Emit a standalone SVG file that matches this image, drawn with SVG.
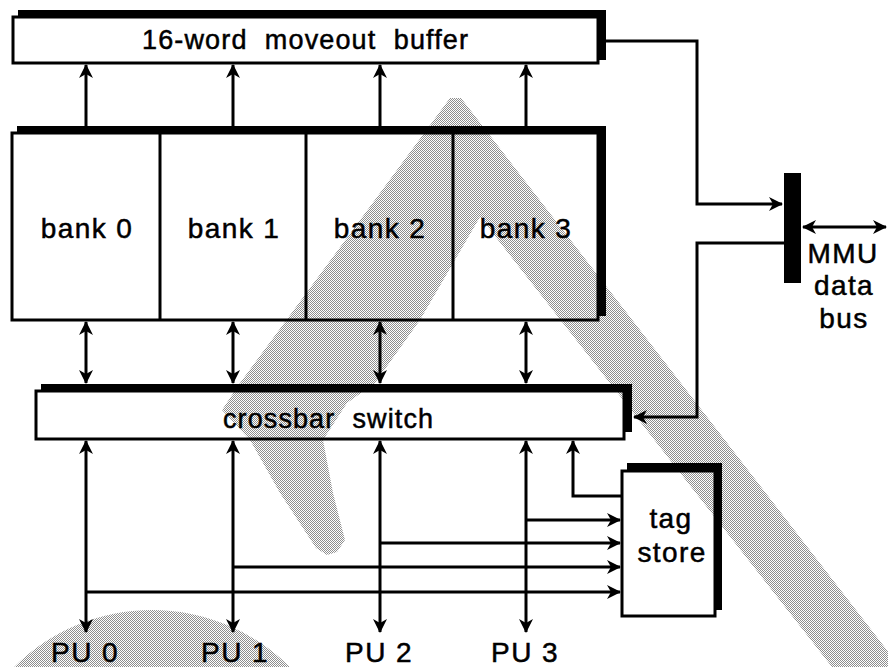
<svg xmlns="http://www.w3.org/2000/svg" width="888" height="667" viewBox="0 0 888 667">
<defs>
<pattern id="dots" width="2" height="2" patternUnits="userSpaceOnUse">
<rect x="0" y="0" width="1" height="1" fill="#8e8e8e"/>
<rect x="1" y="1" width="1" height="1" fill="#8e8e8e"/>
</pattern>
<marker id="ah" viewBox="-14 -8 16 16" refX="0" refY="0" markerWidth="16" markerHeight="16" markerUnits="userSpaceOnUse" orient="auto-start-reverse">
<path d="M1,0 L-13,-7 L-9,0 L-13,7 Z" fill="#000"/>
</marker>
<style>
.box{fill:none;stroke:#000;stroke-width:3}
.shadow{fill:#000}
.div{stroke:#000;stroke-width:3}
.c{fill:none;stroke:#000;stroke-width:3}
.a1{marker-end:url(#ah)}
.a2{marker-start:url(#ah);marker-end:url(#ah)}
.t{font-family:"Liberation Sans",Arial,Helvetica,sans-serif;font-size:28px;fill:#000;stroke:#000;stroke-width:0.5;text-anchor:middle;letter-spacing:1.4px}
.w{font-size:27px;letter-spacing:0;white-space:pre}
.wm{fill:url(#dots)}
</style>
</defs>
<rect width="888" height="667" fill="#fff"/>
<g id="watermark">
<polygon class="wm" points="450,98 461,98 900,667 832,667 480,217 420,320 375,383 347,403 323,440 333,493 345,540 337,552 327,555 316,548 280,493 250,440 222,410 240,383"/>
<circle class="wm" cx="152" cy="805" r="195"/>
</g>
<g id="moveout-buffer">
<polygon class="shadow" points="18,10 606,10 606,60 597,60 597,17 18,17"/>
<rect class="box" x="13" y="17" width="585" height="46"/>
<text class="t w" x="305" y="49" textLength="326" lengthAdjust="spacing">16-word  moveout  buffer</text>
</g>
<g id="banks">
<polygon class="shadow" points="17,126 606,126 606,316 597,316 597,133 17,133"/>
<rect class="box" x="12" y="133" width="586" height="187"/>
<line class="div" x1="160" y1="133" x2="160" y2="320"/>
<line class="div" x1="306" y1="133" x2="306" y2="320"/>
<line class="div" x1="453" y1="133" x2="453" y2="320"/>
</g>
<g id="bank0"><text class="t" x="87" y="238">bank 0</text></g>
<g id="bank1"><text class="t" x="234" y="238">bank 1</text></g>
<g id="bank2"><text class="t" x="380" y="238">bank 2</text></g>
<g id="bank3"><text class="t" x="526" y="238">bank 3</text></g>
<g id="crossbar">
<polygon class="shadow" points="41,384 632,384 632,432 623,432 623,391 41,391"/>
<rect class="box" x="36" y="391" width="588" height="48"/>
<text class="t w" x="328" y="428" textLength="210" lengthAdjust="spacing">crossbar  switch</text>
</g>
<g id="tag-store">
<polygon class="shadow" points="627,463 722,463 722,610 714,610 714,471 627,471"/>
<rect class="box" x="622" y="471" width="93" height="145"/>
<text class="t" x="671" y="528">tag</text>
<text class="t" x="672" y="562">store</text>
</g>
<g id="mmu-bus">
<rect x="784" y="173" width="17" height="110" fill="#000"/>
<text class="t" x="843" y="263">MMU</text>
<text class="t" x="844" y="295">data</text>
<text class="t" x="844" y="328">bus</text>
</g>
<g id="pu0"><text class="t" x="85" y="662">PU 0</text></g>
<g id="pu1"><text class="t" x="235" y="662">PU 1</text></g>
<g id="pu2"><text class="t" x="379" y="662">PU 2</text></g>
<g id="pu3"><text class="t" x="525" y="662">PU 3</text></g>
<g id="connectors">
<path class="c a1" d="M86,126 V65"/>
<path class="c a1" d="M233,126 V65"/>
<path class="c a1" d="M380,126 V65"/>
<path class="c a1" d="M526,126 V65"/>
<path class="c a2" d="M86,322 V383"/>
<path class="c a2" d="M233,322 V383"/>
<path class="c a2" d="M380,322 V383"/>
<path class="c a2" d="M526,322 V383"/>
<path class="c a2" d="M86,441 V632"/>
<path class="c a2" d="M233,441 V632"/>
<path class="c a2" d="M380,441 V632"/>
<path class="c a2" d="M526,441 V632"/>
<path class="c a1" d="M526,520 H620"/>
<path class="c a1" d="M380,543 H620"/>
<path class="c a1" d="M233,567 H620"/>
<path class="c a1" d="M86,592 H620"/>
<path class="c a1" d="M621,496 H573 V441"/>
<path class="c a1" d="M606,41 H697 V204 H782"/>
<path class="c a1" d="M784,243 H697 V417 H634"/>
<path class="c a2" d="M803,227 H886"/>
</g>
</svg>
